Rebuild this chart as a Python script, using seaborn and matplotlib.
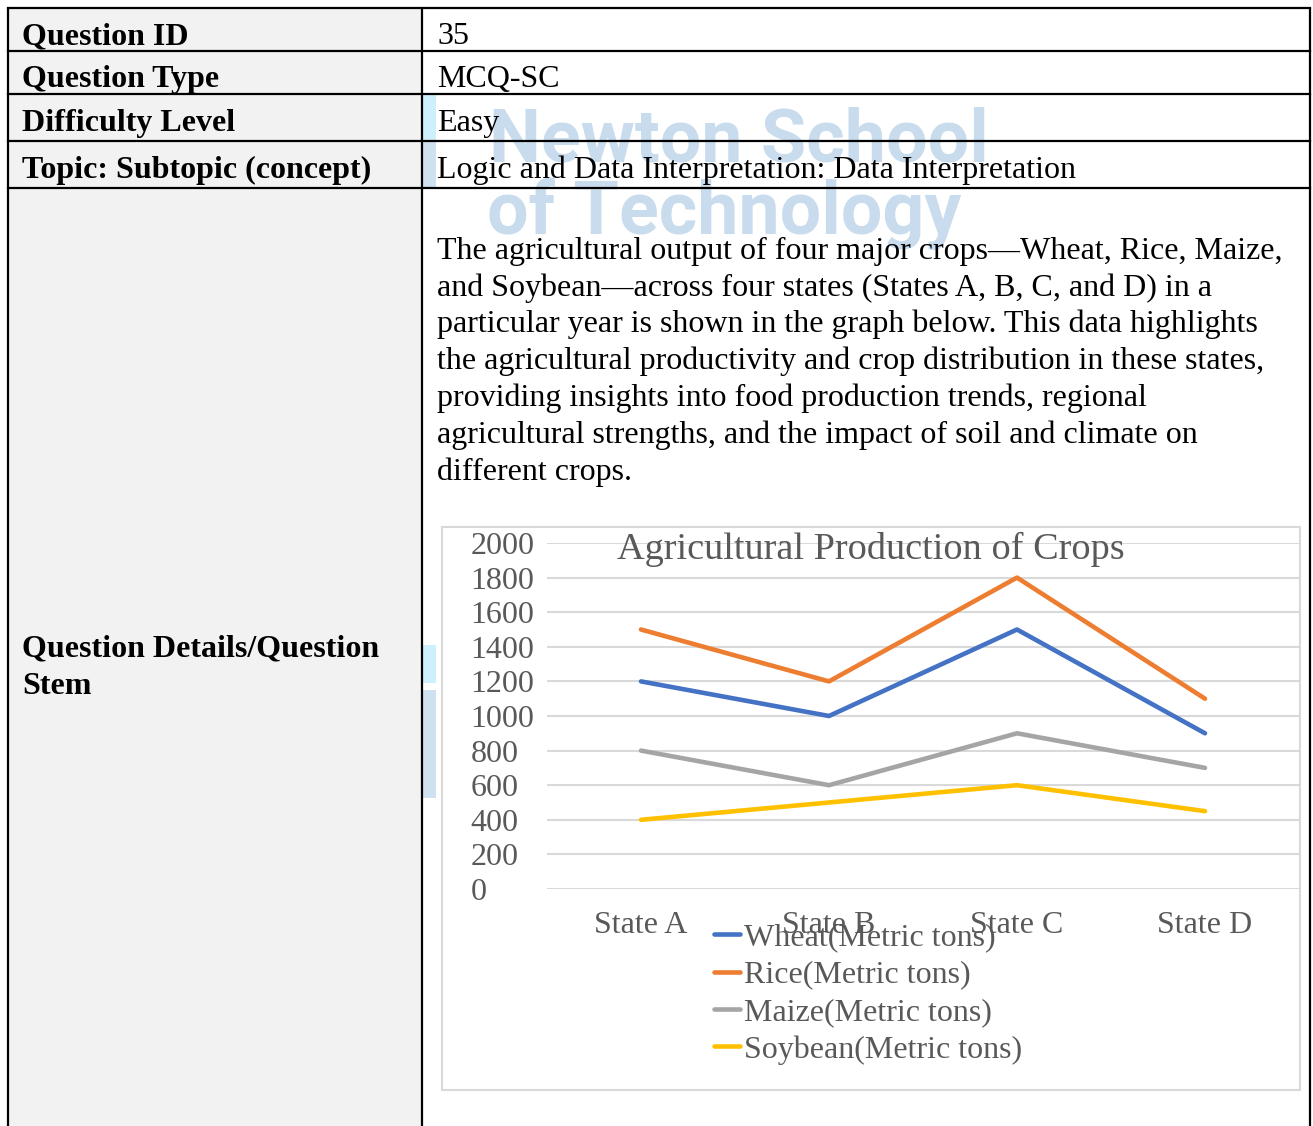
import matplotlib
matplotlib.use("Agg")
import matplotlib.pyplot as plt
from matplotlib.patches import Rectangle
import seaborn as sns
import pandas as pd

# ---------------- data ----------------
states = ["State A", "State B", "State C", "State D"]
wheat = [1200, 1000, 1500, 900]
rice = [1500, 1200, 1800, 1100]
maize = [800, 600, 900, 700]
soybean = [400, 500, 600, 450]
series_names = ["Wheat(Metric tons)", "Rice(Metric tons)", "Maize(Metric tons)", "Soybean(Metric tons)"]
series_colors = ["#4472C4", "#ED7D31", "#A5A5A5", "#FFC000"]
yticks = [0, 200, 400, 600, 800, 1000, 1200, 1400, 1600, 1800, 2000]
chart_title = "Agricultural Production of Crops"

row_labels = ["Question ID", "Question Type", "Difficulty Level", "Topic: Subtopic (concept)"]
row_values = ["35", "MCQ-SC", "Easy", "Logic and Data Interpretation: Data Interpretation"]
stem_label = ["Question Details/Question", "Stem"]
stem_lines = [
    "The agricultural output of four major crops\u2014Wheat, Rice, Maize,",
    "and Soybean\u2014across four states (States A, B, C, and D) in a",
    "particular year is shown in the graph below. This data highlights",
    "the agricultural productivity and crop distribution in these states,",
    "providing insights into food production trends, regional",
    "agricultural strengths, and the impact of soil and climate on",
    "different crops.",
]

df = pd.DataFrame({
    "State": states * 4,
    "Value": wheat + rice + maize + soybean,
    "Crop": sum([[n] * len(states) for n in series_names], []),
})

# ---------------- figure ----------------
sns.set_theme(style="white")
plt.rcParams["font.family"] = ["Liberation Serif", "DejaVu Serif"]

W, H = 1313, 1126
fig = plt.figure(figsize=(W / 100, H / 100), dpi=100)
fig.patch.set_facecolor("white")

bg = fig.add_axes([0, 0, 1, 1], zorder=0)
bg.set_xlim(0, W)
bg.set_ylim(H, 0)
bg.axis("off")

# left column fill
bg.add_patch(Rectangle((8, 8), 414, H, facecolor="#f2f2f2", edgecolor="none", zorder=0))

# logo fragments (watermark) near column line
bg.add_patch(Rectangle((423, 95), 13, 46, facecolor="#cdf0fc", edgecolor="none", zorder=0.5))
bg.add_patch(Rectangle((423, 142), 13, 46, facecolor="#cfe0f0", edgecolor="none", zorder=0.5))
bg.add_patch(Rectangle((423, 645), 13, 38, facecolor="#cdf0fc", edgecolor="none", zorder=0.5))
bg.add_patch(Rectangle((423, 690), 13, 108, facecolor="#cfe0f0", edgecolor="none", zorder=0.5))

# watermark text
wm_color = "#c9dcee"
bg.text(489, 141, "Newton School", fontsize=53, fontweight="bold", family=["Roboto", "DejaVu Sans"],
        color=wm_color, ha="left", va="center", zorder=0.6)
bg.text(487, 214, "of Technology", fontsize=53, fontweight="bold", family=["Roboto", "DejaVu Sans"],
        color=wm_color, ha="left", va="center", zorder=0.6)

# table lines
rows_y = [8, 51, 94, 141, 188]
for y in rows_y:
    bg.plot([8, 1310], [y, y], color="black", lw=1.6, zorder=2, solid_capstyle="projecting")
for x in [8, 422, 1310]:
    bg.plot([x, x], [8, H + 5], color="black", lw=1.6, zorder=2)

# table texts
fs = 23
text_y = [37, 80, 123, 170]
for lab, val, ty in zip(row_labels, row_values, text_y):
    bg.text(22, ty, lab, fontsize=fs, fontweight="bold", color="black", ha="left", va="center", zorder=3)
    bg.text(437, ty, val, fontsize=fs, color="black", ha="left", va="center", zorder=3)

bg.text(22, 649, stem_label[0], fontsize=fs, fontweight="bold", color="black", ha="left", va="center", zorder=3)
bg.text(22, 686, stem_label[1], fontsize=fs, fontweight="bold", color="black", ha="left", va="center", zorder=3)

for i, line in enumerate(stem_lines):
    bg.text(437, 251 + i * 36.8, line, fontsize=fs, color="black", ha="left", va="center", zorder=3)

# chart box
bg.add_patch(Rectangle((442, 527), 858, 563, facecolor="white", edgecolor="#d9d9d9", lw=1.5, zorder=1))

# ---------------- chart ----------------
left, right, top, bottom = 547, 1299, 543, 889
ax = fig.add_axes([left / W, 1 - bottom / H, (right - left) / W, (bottom - top) / H], zorder=1)
ax.set_facecolor("none")

sns.lineplot(data=df, x="State", y="Value", hue="Crop", palette=series_colors,
             hue_order=series_names, sort=False, linewidth=3.3, ax=ax, legend=True)

ax.set_xlim(-0.5, 3.5)
ax.set_ylim(0, 2000)
ax.set_yticks(yticks)
ax.set_yticklabels([str(v) for v in yticks])
ax.yaxis.grid(True, color="#d9d9d9", lw=1.5)
ax.set_axisbelow(True)
for s in ax.spines.values():
    s.set_visible(False)
ax.set_xlabel("")
ax.set_ylabel("")
ax.tick_params(axis="y", length=0, pad=55, labelsize=23, labelcolor="#595959")
for t in ax.get_yticklabels():
    t.set_horizontalalignment("left")
ax.tick_params(axis="x", length=0, pad=15.5, labelsize=23, labelcolor="#595959")

handles, labels = ax.get_legend_handles_labels()
leg = ax.legend(handles, labels, loc="upper left",
                bbox_to_anchor=(714 / W, 1 - 923 / H), bbox_transform=fig.transFigure,
                frameon=False, fontsize=23, handlelength=0.8, handletextpad=0.15,
                labelspacing=0.25, borderpad=0, borderaxespad=0)
for t in leg.get_texts():
    t.set_color("#595959")
for h in leg.get_lines():
    h.set_linewidth(3.3)

fig.text(871 / W, 1 - 549 / H, chart_title, fontsize=27.5, color="#595959",
         ha="center", va="center", zorder=5)

fig.savefig("out.png", dpi=100)
